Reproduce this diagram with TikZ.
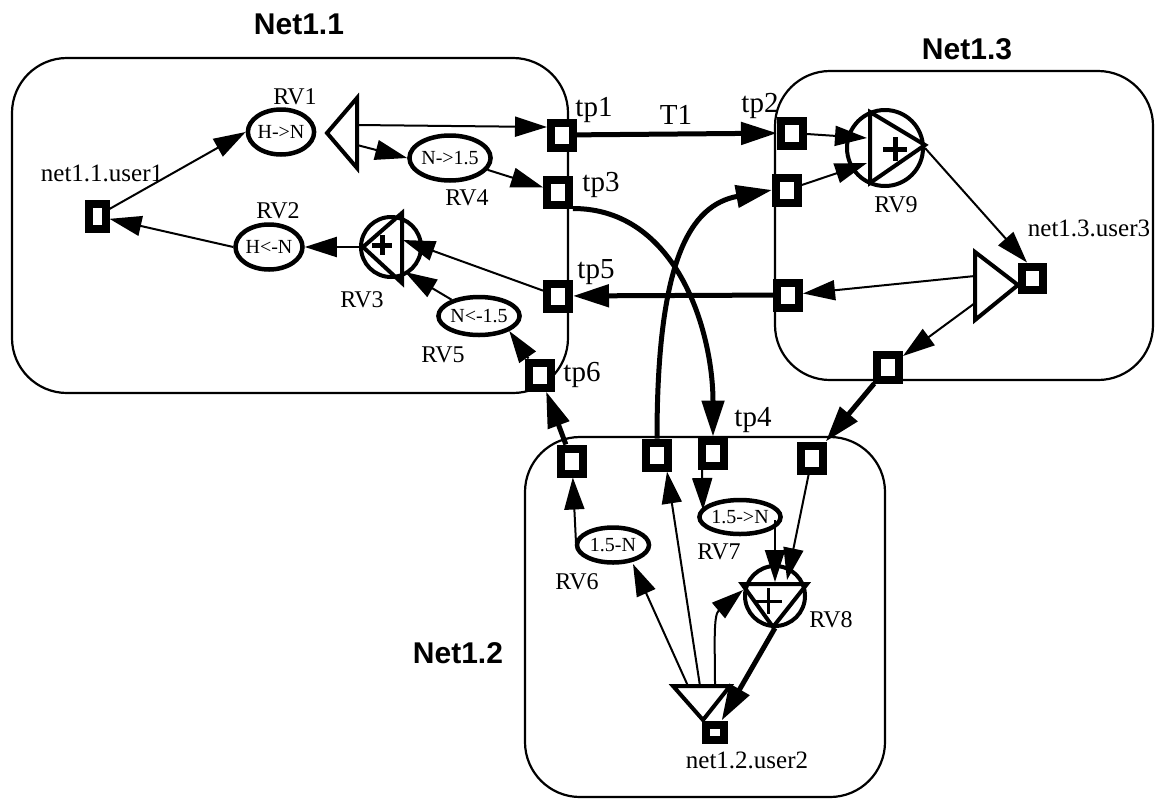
\documentclass[tikz,border=0pt]{standalone}
\usepackage{fontspec}
\setmainfont{Liberation Serif}
\setsansfont{Liberation Sans}
\usepackage{tikz}
\usetikzlibrary{shapes.geometric, arrows.meta, positioning, calc}

\tikzset{
  netbox/.style={draw, line width=2.2pt, rounded corners=55pt},
  nettitle/.style={font=\sffamily\bfseries\fontsize{30}{30}\selectfont, inner sep=0pt},
  port/.style={rectangle, draw, line width=8pt, fill=white, inner sep=0pt,
               minimum width=22pt, minimum height=25pt},
  rv/.style={ellipse, draw, line width=4.5pt, fill=white, inner sep=0pt,
             minimum width=66pt, minimum height=45pt, font=\fontsize{20}{20}\selectfont},
  adder/.style={circle, draw, line width=4pt, inner sep=0pt, minimum size=60pt},
  tri/.style={line width=4pt, line join=miter},
  rvlbl/.style={font=\fontsize{24}{24}\selectfont, inner sep=0pt},
  tplbl/.style={font=\fontsize{29}{29}\selectfont, inner sep=0pt},
  userlbl/.style={font=\fontsize{25}{25}\selectfont, inner sep=0pt},
  link/.style={line width=2pt, -{Triangle[length=32pt, width=20pt]}},
  trunk/.style={line width=5pt, -{Triangle[length=36pt, width=22pt]}}
}

\begin{document}
\begin{tikzpicture}[x=1pt, y=-1pt]
\useasboundingbox (0,0) rectangle (1161,801);

% the three networks
\draw[netbox] (12,58) rectangle (568,393);
\draw[netbox] (775,71) rectangle (1153,380);
\draw[netbox] (525,437) rectangle (885,797);
\node[nettitle] (net11) at (299,24) {Net1.1};
\node[nettitle] (net13) at (967,49) {Net1.3};
\node[nettitle] (net12) at (458,653) {Net1.2};

% ports
\node[port] (tp1) at (562,135) {};
\node[port] (tp3) at (558,192) {};
\node[port] (tp5) at (558,296) {};
\node[port] (tp6) at (540,375) {};
\node[port] (tp2) at (792,133) {};
\node[port] (n3in) at (787,190) {};
\node[port] (n3out) at (788,295) {};
\node[port] (n3dn) at (888,367) {};
\node[port] (n2a) at (572,461) {};
\node[port] (n2b) at (657,455) {};
\node[port] (tp4) at (713,453) {};
\node[port] (n2c) at (812,458) {};
\node[port, minimum width=17pt, minimum height=25pt] (user1) at (97,216) {};
\node[port, minimum width=18pt, minimum height=15pt] (user2) at (715,732) {};
\node[port, minimum width=21pt, minimum height=23pt] (user3) at (1032,278) {};

% converters
\node[rv] (rv1) at (281,132) {H->N};
\node[rv, minimum width=67pt] (rv2) at (269,247) {H<-N};
\node[rv] (rv4) at (450,158) {N->1.5};
\node[rv, minimum width=70pt, minimum height=38pt] (rv5) at (479,316) {N<-1.5};
\node[rv, minimum width=72pt, minimum height=35pt] (rv6) at (613,545) {1.5-N};
\node[rv, minimum width=70pt, minimum height=34pt] (rv7) at (740,517) {1.5->N};

% adders
\node[adder] (rv3) at (391,247) {};
\draw[tri] (363,247) -- (402,213) -- (402,283) -- cycle;
\draw[line width=5pt] (372,245) -- (392,245) (382,235) -- (382,255);
\node[adder, minimum size=76pt] (rv9) at (885,148) {};
\draw[tri] (925,145) -- (870,112) -- (870,183) -- cycle;
\draw[line width=5pt] (883,149) -- (907,149) (895,137) -- (895,161);
\node[adder] (rv8) at (775,596) {};
\draw[tri] (773,627) -- (742,584) -- (807,584) -- cycle;
\draw[line width=3pt] (754,601) -- (782,601) (768,588) -- (768,614);

% splitters
\draw[tri] (327,133) -- (357,98) -- (357,168) -- cycle;
\coordinate (spl1a) at (357,125);
\coordinate (spl1b) at (357,145);
\draw[tri] (1018,285) -- (975,252) -- (975,320) -- cycle;
\coordinate (spl3a) at (975,276);
\coordinate (spl3b) at (975,303);
\draw[tri] (703,720) -- (673,686) -- (730,686) -- cycle;
\coordinate (spl2a) at (688,686);
\coordinate (spl2b) at (700,686);
\coordinate (spl2c) at (715,686);

% labels
\node[userlbl] (luser1) at (102,173) {net1.1.user1};
\node[userlbl] (luser3) at (1089,228) {net1.3.user3};
\node[userlbl] (luser2) at (747,760) {net1.2.user2};
\node[rvlbl] (lrv1) at (295,97) {RV1};
\node[rvlbl] (lrv2) at (278,211) {RV2};
\node[rvlbl] (lrv3) at (362,300) {RV3};
\node[rvlbl] (lrv4) at (467,198) {RV4};
\node[rvlbl] (lrv5) at (443,355) {RV5};
\node[rvlbl] (lrv6) at (577,582) {RV6};
\node[rvlbl] (lrv7) at (719,552) {RV7};
\node[rvlbl] (lrv8) at (831,620) {RV8};
\node[rvlbl] (lrv9) at (896,205) {RV9};
\node[tplbl] (ltp1) at (594,110) {tp1};
\node[tplbl] (ltp2) at (760,106) {tp2};
\node[tplbl] (ltp3) at (601,185) {tp3};
\node[tplbl] (ltp4) at (753,420) {tp4};
\node[tplbl] (ltp5) at (596,272) {tp5};
\node[tplbl] (ltp6) at (582,375) {tp6};
\node[tplbl] (lt1) at (676,115) {T1};

% Net1.1
\draw[link] (user1) -- (rv1.west);
\draw[link] (rv2.west) -- (user1);
\draw[link] (rv3.west) -- (rv2.east);
\draw[link] (spl1a) -- ([shift={(0,-8)}]tp1.west);
\draw[link] (spl1b) -- (rv4.west);
\draw[link] (rv4) -- (tp3);
\draw[link] (tp5) -- ([shift={(12,-7)}]rv3.center);
\draw[link] (rv5) -- ([shift={(14,25)}]rv3.center);
\draw[link] (tp6) -- (rv5.south east);

% Net1.3
\draw[link] (tp2) -- ([shift={(-18,-10)}]rv9.center);
\draw[link] (n3in) -- ([shift={(-18,15)}]rv9.center);
\draw[link] (rv9.east) -- ([shift={(-5,0)}]user3.north);
\draw[link] (spl3a) -- (n3out);
\draw[link] (spl3b) -- (n3dn);

% Net1.2
\draw[link] ([shift={(4,0)}]tp4.south west) -- ([shift={(-37,-7)}]rv7.center);
\draw[link] ([shift={(35,3)}]rv7.center) -- ([shift={(0,-14)}]rv8.center);
\draw[link] (n2c) -- ([shift={(12,-16)}]rv8.center);
\draw[link] ([shift={(-37,-2)}]rv6.center) -- (n2a);
\draw[link] (spl2a) -- ([shift={(20,19)}]rv6.center);
\draw[link] (spl2b) -- ([shift={(10,0)}]n2b.south);
\draw[link] (spl2c) to[out=90, in=220] ([shift={(-32,-6)}]rv8.center);
\draw[trunk] (rv8.south) -- (user2);

% links between networks
\draw[trunk] (tp1) -- (tp2);
\draw[trunk] (n3out) -- (tp5);
\draw[trunk] (n3dn) -- (n2c);
\draw[trunk] (n2a) -- (tp6);
\draw[trunk] (tp3.south east) to[out=0, in=90] (tp4.north);
\draw[trunk] (n2b.north) .. controls (657,260) and (690,205) .. (n3in.west);
\end{tikzpicture}
\end{document}
